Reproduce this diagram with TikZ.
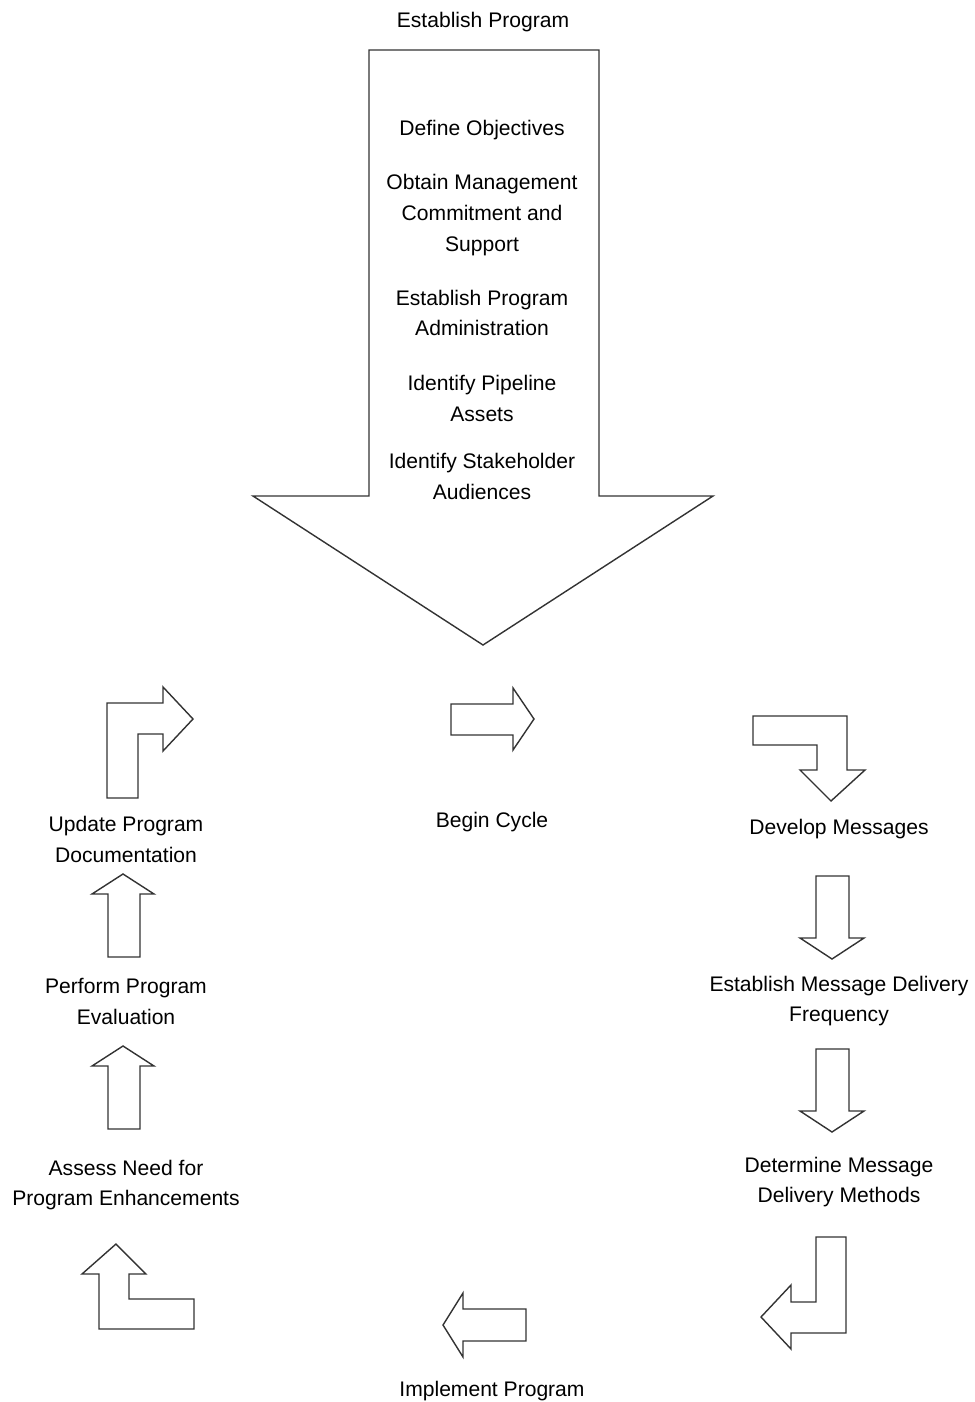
\documentclass[tikz,border=0pt]{standalone}
\usepackage{fontspec}
\setmainfont{Liberation Sans}
\definecolor{lngray}{RGB}{51,51,51}
\usetikzlibrary{positioning}

\begin{document}
\begin{tikzpicture}[x=0.02cm,y=-0.02cm,
    every node/.style={font=\fontsize{12}{17.6}\selectfont,align=center,inner sep=0pt},
    blk/.style={draw=lngray,line width=0.8pt,line join=miter}]
  \useasboundingbox (0,0) rectangle (974,1402);

  %% Big entry arrow
  \draw[blk] (369,50) -- (599,50) -- (599,496) -- (713,496) -- (483,645)
             -- (253,496) -- (369,496) -- cycle;
  \node (est) at (483,22) {Establish Program};
  \node (obj) at (482,130) {Define Objectives};
  \node (mgt) at (482,215) {Obtain Management\\Commitment and\\Support};
  \node (adm) at (482,313) {Establish Program\\Administration};
  \node (pip) at (482,398) {Identify Pipeline\\Assets};
  \node (aud) at (482,476) {Identify Stakeholder\\Audiences};

  %% Cycle labels
  \node (beg) at (492,822) {Begin Cycle};
  \node (dev) at (839,829) {Develop Messages};
  \node (frq) at (839,1001) {Establish Message Delivery\\Frequency};
  \node (mth) at (839,1182) {Determine Message\\Delivery Methods};
  \node (imp) at (492,1391) {Implement Program};
  \node (ass) at (126,1185) {Assess Need for\\Program Enhancements};
  \node (evl) at (126,1001) {Perform Program\\Evaluation};
  \node (doc) at (126,839) {Update Program\\Documentation};

  %% Block arrows of the cycle
  % begin -> right
  \draw[blk] (451,704) -- (513,704) -- (513,688) -- (534,719) -- (513,750)
             -- (513,735) -- (451,735) -- cycle;
  % turn right then down
  \draw[blk] (753,716) -- (847,716) -- (847,770) -- (865,770) -- (831,801)
             -- (800,770) -- (817,770) -- (817,745) -- (753,745) -- cycle;
  % down arrows
  \foreach \dy in {0,173} {
    \draw[blk] (816,876+\dy) -- (849,876+\dy) -- (849,938+\dy) -- (864,938+\dy)
               -- (832,959+\dy) -- (800,938+\dy) -- (816,938+\dy) -- cycle;
  }
  % turn down then left
  \draw[blk] (816,1237) -- (846,1237) -- (846,1333) -- (791,1333) -- (791,1349)
             -- (761,1317) -- (791,1285) -- (791,1302) -- (816,1302) -- cycle;
  % left
  \draw[blk] (443,1325) -- (463,1293) -- (463,1309) -- (526,1309) -- (526,1341)
             -- (463,1341) -- (463,1357) -- cycle;
  % turn left then up
  \draw[blk] (116,1244) -- (146,1274) -- (129,1274) -- (129,1299) -- (194,1299)
             -- (194,1329) -- (99,1329) -- (99,1274) -- (82,1274) -- cycle;
  % up arrows
  \foreach \dy in {0,172} {
    \draw[blk] (123,874+\dy) -- (154,894+\dy) -- (140,894+\dy) -- (140,957+\dy)
               -- (108,957+\dy) -- (108,894+\dy) -- (92,894+\dy) -- cycle;
  }
  % turn up then right
  \draw[blk] (107,798) -- (107,703) -- (163,703) -- (163,687) -- (193,719)
             -- (163,751) -- (163,734) -- (138,734) -- (138,798) -- cycle;
\end{tikzpicture}
\end{document}
